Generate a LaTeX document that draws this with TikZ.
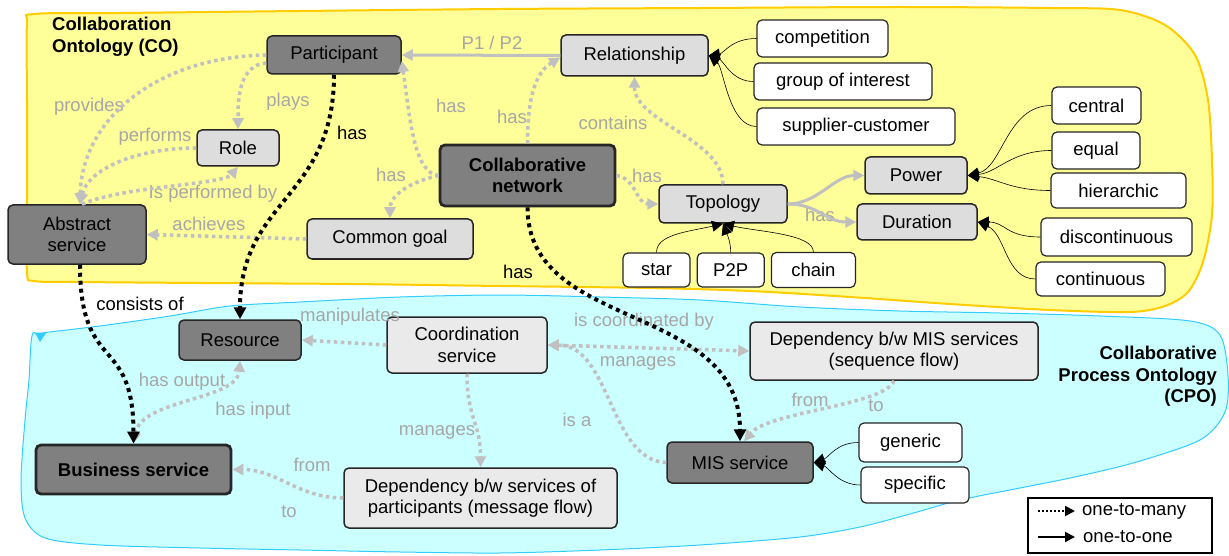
\documentclass[tikz,border=0pt]{standalone}
\usepackage{fontspec}
\setmainfont{Liberation Sans}
\usepackage{tikz}
\usetikzlibrary{positioning, arrows.meta, backgrounds}
\definecolor{coFill}{HTML}{FFFF99}
\definecolor{coLine}{HTML}{FFCC00}
\definecolor{cpoFill}{HTML}{CCFFFF}
\definecolor{cpoLine}{HTML}{33CCFF}
\definecolor{nodeDark}{HTML}{808080}
\definecolor{nodeLight}{HTML}{DDDDDD}
\definecolor{nodePale}{HTML}{EAEAEA}
\definecolor{nodeLine}{HTML}{262626}
\definecolor{relGray}{HTML}{C0C0C0}
\definecolor{relText}{HTML}{A6A6A6}
\newcommand{\dgmfont}{\fontsize{18.5}{21.5}\selectfont}

\begin{document}
\begin{tikzpicture}[
  x=1pt, y=-1pt,
  % Styles
  darkbox/.style={
    rectangle, rounded corners=5pt,
    draw=nodeLine, line width=1.5pt, fill=nodeDark,
    font=\dgmfont, align=center, inner sep=2pt
  },
  lightbox/.style={darkbox, fill=nodeLight},
  palebox/.style={darkbox, fill=nodePale},
  leafbox/.style={darkbox, fill=white, line width=1.2pt},
  corebox/.style={darkbox, line width=2.8pt, font=\dgmfont\bfseries},
  legendbox/.style={rectangle, draw=black, line width=1.8pt, fill=white},
  title/.style={font=\dgmfont\bfseries, inner sep=0pt},
  rellabel/.style={font=\dgmfont, text=relText, inner sep=1pt},
  haslabel/.style={font=\dgmfont, text=black, inner sep=1pt},
  relline/.style={
    draw=relGray, line width=3.5pt, dash pattern=on 3.5pt off 3.5pt,
    -{Triangle[length=11pt, width=11pt]}
  },
  relboth/.style={relline, {Triangle[length=11pt, width=11pt]}-{Triangle[length=11pt, width=11pt]}},
  relsolid/.style={draw=relGray, line width=3pt, -{Triangle[length=11pt, width=11pt]}},
  hasline/.style={
    draw=black, line width=4pt, dash pattern=on 4pt off 4pt,
    -{Triangle[length=12pt, width=12pt]}
  },
  kindline/.style={draw=black, line width=0.6pt, -{Triangle[length=11pt, width=11pt]}},
]
\useasboundingbox (0,0) rectangle (1229,556);

% === ONTOLOGY AREAS ===
\begin{scope}[on background layer]
  \filldraw[fill=cpoFill, draw=cpoLine, line width=1pt]
    plot[smooth cycle, tension=0.5] coordinates {
      (32,336) (42,333) (100,326) (170,316) (230,306) (300,302) (400,297) (500,295)
      (600,297) (700,300) (800,307) (900,311) (1000,313) (1100,316) (1190,321)
      (1220,335) (1228,375) (1225,412) (1200,440) (1133,463) (1070,478)
      (1020,488) (960,500) (910,514) (860,527) (800,537) (700,545) (600,550)
      (500,553) (400,552) (300,550) (200,548) (100,545) (45,538) (25,518)
      (21,480) (25,420) (29,380)};
  \fill[cpoLine] (35,333) -- (46,333) -- (40,342) -- cycle;
  \filldraw[fill=coFill, draw=coLine, line width=2pt]
    plot[smooth cycle, tension=0.5] coordinates {
      (27,24) (34,14) (120,13) (300,11) (500,9) (700,8) (900,7) (1050,8)
      (1120,10) (1165,25) (1195,55) (1208,100) (1212,160) (1212,215)
      (1203,262) (1188,292) (1165,306) (1130,312) (1050,310) (950,304)
      (850,297) (750,291) (650,288) (500,286) (350,284) (200,283) (80,282)
      (34,281) (27,272) (27,200) (27,100)};
\end{scope}

\node[title, anchor=north west, align=left] (cotitle) at (52,17) {Collaboration\\Ontology (CO)};
\node[title, anchor=north east, align=right] (cpotitle) at (1217,346) {Collaborative\\Process Ontology\\(CPO)};

% === CO CONCEPTS ===
\node[darkbox, minimum width=134pt, minimum height=38pt] (participant) at (334,55) {Participant};
\node[lightbox, minimum width=82pt, minimum height=36pt] (role) at (238,148) {Role};
\node[darkbox, minimum width=138pt, minimum height=59pt] (abstractsvc) at (77,234.5) {Abstract\\service};
\node[lightbox, minimum width=166pt, minimum height=40pt] (commongoal) at (390,239) {Common goal};
\node[corebox, minimum width=175pt, minimum height=61pt] (collabnet) at (527.5,175.5) {Collaborative\\network};
\node[lightbox, minimum width=147pt, minimum height=41pt] (relationship) at (634.5,55.5) {Relationship};
\node[lightbox, minimum width=128pt, minimum height=38pt] (topology) at (723,204) {Topology};
\node[lightbox, minimum width=102pt, minimum height=37pt] (power) at (916,175.5) {Power};
\node[lightbox, minimum width=120pt, minimum height=36pt] (duration) at (917,222) {Duration};

% === CO VALUES ===
\node[leafbox, minimum width=67pt, minimum height=34pt] (star) at (656.5,270) {star};
\node[leafbox, minimum width=67pt, minimum height=34pt, right=6pt of star] (ptwop) {P2P};
\node[leafbox, minimum width=84pt, minimum height=35pt, right=6pt of ptwop] (chain) {chain};
\node[leafbox, minimum width=131pt, minimum height=37pt] (competition) at (822.5,38.5) {competition};
\node[leafbox, minimum width=178pt, minimum height=37pt] (groupint) at (843,81.5) {group of interest};
\node[leafbox, minimum width=198pt, minimum height=37pt] (suppcust) at (856,126.5) {supplier-customer};
\node[leafbox, minimum width=89pt, minimum height=37pt] (central) at (1096.5,105.5) {central};
\node[leafbox, minimum width=88pt, minimum height=37pt] (equal) at (1096,150.5) {equal};
\node[leafbox, minimum width=135pt, minimum height=35pt] (hierarchic) at (1118.5,190.5) {hierarchic};
\node[leafbox, minimum width=151pt, minimum height=38pt] (discont) at (1116.5,237) {discontinuous};
\node[leafbox, minimum width=129pt, minimum height=34pt] (contin) at (1100.5,279) {continuous};

% === CPO CONCEPTS ===
\node[darkbox, minimum width=122pt, minimum height=40pt] (resource) at (240,340) {Resource};
\node[corebox, minimum width=195pt, minimum height=49pt] (bizsvc) at (133.5,469.5) {Business service};
\node[palebox, minimum width=160pt, minimum height=56pt] (coordsvc) at (467,345) {Coordination\\service};
\node[palebox, minimum width=273pt, minimum height=60pt] (depmsg) at (480.5,498) {Dependency b/w services of\\participants (message flow)};
\node[darkbox, minimum width=146pt, minimum height=41pt] (missvc) at (740,462.5) {MIS service};
\node[palebox, minimum width=288pt, minimum height=58pt] (depmis) at (894,351) {Dependency b/w MIS services\\(sequence flow)};
\node[leafbox, minimum width=103pt, minimum height=39pt] (generic) at (910.5,442.5) {generic};
\node[leafbox, minimum width=108pt, minimum height=36pt] (specific) at (915,485) {specific};

% === Relation labels ===
\node[rellabel] (lblprovides) at (89,107) {provides};
\node[rellabel] (lblplays) at (288,102) {plays};
\node[rellabel] (lblperforms) at (155,137) {performs};
\node[rellabel] (lblperformedby) at (213,194) {Is performed by};
\node[rellabel] (lblachieves) at (209,224) {achieves};
\node[rellabel] (lblhaspart) at (451,106) {has};
\node[rellabel] (lblhasgoal) at (391,175) {has};
\node[rellabel] (lblhasrel) at (512,117) {has};
\node[rellabel] (lblponetwo) at (492,43) {P1 / P2};
\node[rellabel] (lblcontains) at (613,123) {contains};
\node[rellabel] (lblhastopo) at (647,176) {has};
\node[rellabel] (lblhasprop) at (820,215) {has};
\node[haslabel] (lblhasres) at (352,133) {has};
\node[haslabel] (lblhasmis) at (518,272) {has};
\node[haslabel] (lblconsists) at (140,304) {consists of};
\node[rellabel] (lblmanip) at (350,317) {manipulates};
\node[rellabel] (lblhasout) at (182,382) {has output};
\node[rellabel] (lblhasin) at (253,411) {has input};
\node[rellabel] (lblcoordby) at (644,322) {is coordinated by};
\node[rellabel] (lblmanages) at (638,363) {manages};
\node[rellabel] (lblisa) at (577,420) {is a};
\node[rellabel] (lblmanmsg) at (437,432) {manages};
\node[rellabel] (lblfrommsg) at (312,465) {from};
\node[rellabel] (lbltomsg) at (289,512) {to};
\node[rellabel] (lblfrommis) at (810,400) {from};
\node[rellabel] (lbltomis) at (876,406) {to};

% === CO relations ===
\draw[relline] (participant.west) .. controls +(-110,2) and +(2,-85) .. ([xshift=3pt]abstractsvc.north);
\draw[relline] ([yshift=-8pt]participant.west) .. controls +(-28,2) and +(0,-28) .. (role.north);
\draw[relline] (role.west) .. controls +(-60,0) and +(8,-35) .. ([xshift=3pt]abstractsvc.north);
\draw[relline] ([xshift=5pt]abstractsvc.north) .. controls +(40,-18) and +(-15,18) .. (role.south);
\draw[relline] (commongoal.west) -- (abstractsvc.east);
\draw[relline] (collabnet.west) .. controls +(-25,-2) and +(8,55) .. ([yshift=-6pt]participant.east);
\draw[relline] (collabnet.west) .. controls +(-35,8) and +(0,-20) .. (commongoal.north);
\draw[relline] (collabnet.north) .. controls +(0,-45) and +(-25,15) .. ([yshift=-2pt]relationship.west);
\draw[relline] (collabnet.east) .. controls +(20,3) and +(-22,0) .. (topology.west);
\draw[relline] (topology.north) .. controls +(0,-45) and +(0,45) .. (relationship.south);
\draw[relsolid] (relationship.west) -- (participant.east);
\draw[relsolid] (topology.east) .. controls +(30,0) and +(-30,0) .. (power.west);
\draw[relsolid] (topology.east) .. controls +(30,0) and +(-30,0) .. (duration.west);

% === Kinds ===
\draw[kindline] (competition.west) .. controls +(-25,0) and +(15,-2) .. (relationship.east);
\draw[kindline] (groupint.west) .. controls +(-22,0) and +(15,5) .. (relationship.east);
\draw[kindline] (suppcust.west) .. controls +(-28,0) and +(15,12) .. (relationship.east);
\draw[kindline] (central.west) .. controls +(-45,0) and +(35,-8) .. (power.east);
\draw[kindline] (equal.west) .. controls +(-40,0) and +(30,-3) .. (power.east);
\draw[kindline] (hierarchic.west) .. controls +(-40,0) and +(30,3) .. (power.east);
\draw[kindline] (discont.west) .. controls +(-35,0) and +(28,0) .. (duration.east);
\draw[kindline] (contin.west) .. controls +(-30,0) and +(28,12) .. (duration.east);
\draw[kindline] (star.north) .. controls +(0,-18) and +(-35,8) .. (topology.south);
\draw[kindline] (ptwop.north) .. controls +(0,-12) and +(3,8) .. (topology.south);
\draw[kindline] (chain.north) .. controls +(0,-18) and +(35,8) .. (topology.south);
\draw[kindline] (generic.west) .. controls +(-22,0) and +(15,-5) .. (missvc.east);
\draw[kindline] (specific.west) .. controls +(-22,0) and +(15,5) .. (missvc.east);

% === CPO relations ===
\draw[relline] (coordsvc.west) -- (resource.east);
\draw[relboth] (bizsvc.north) .. controls +(8,-45) and +(-3,40) .. (resource.south);
\draw[relboth] (coordsvc.east) -- (depmis.west);
\draw[relline] (missvc.west) .. controls +(-57,-2) and +(63,0) .. (coordsvc.east);
\draw[relline] (coordsvc.south) .. controls +(0,45) and +(0,-45) .. (depmsg.north);
\draw[relline] (depmsg.west) .. controls +(-45,0) and +(45,0) .. (bizsvc.east);
\draw[relline] (depmis.south) .. controls +(-10,25) and +(25,-30) .. ([xshift=4pt]missvc.north);

% === CO to CPO (one-to-many) ===
\draw[hasline] (participant.south) .. controls +(0,124) and +(0,-120) .. (resource.north);
\draw[hasline] ([xshift=3pt]abstractsvc.south) .. controls +(0,110) and +(0,-110) .. (bizsvc.north);
\draw[hasline] (collabnet.south) .. controls +(0,125) and +(0,-140) .. (missvc.north);

% === Legend ===
\node[legendbox, minimum width=184pt, minimum height=55pt] (legend) at (1120,525.5) {};
\coordinate (manyA) at (1038,511);
\coordinate (manyB) at (1075,511);
\coordinate (oneA) at (1038,537);
\coordinate (oneB) at (1075,537);
\draw[draw=black, line width=2pt, dash pattern=on 2pt off 2pt, -{Triangle[length=10pt, width=10pt]}] (manyA) -- (manyB);
\draw[draw=black, line width=2pt, -{Triangle[length=10pt, width=10pt]}] (oneA) -- (oneB);
\node[haslabel, anchor=west, right=6pt of manyB] (manytext) {one-to-many};
\node[haslabel, anchor=west, right=7pt of oneB] (onetext) {one-to-one};

\end{tikzpicture}
\end{document}
